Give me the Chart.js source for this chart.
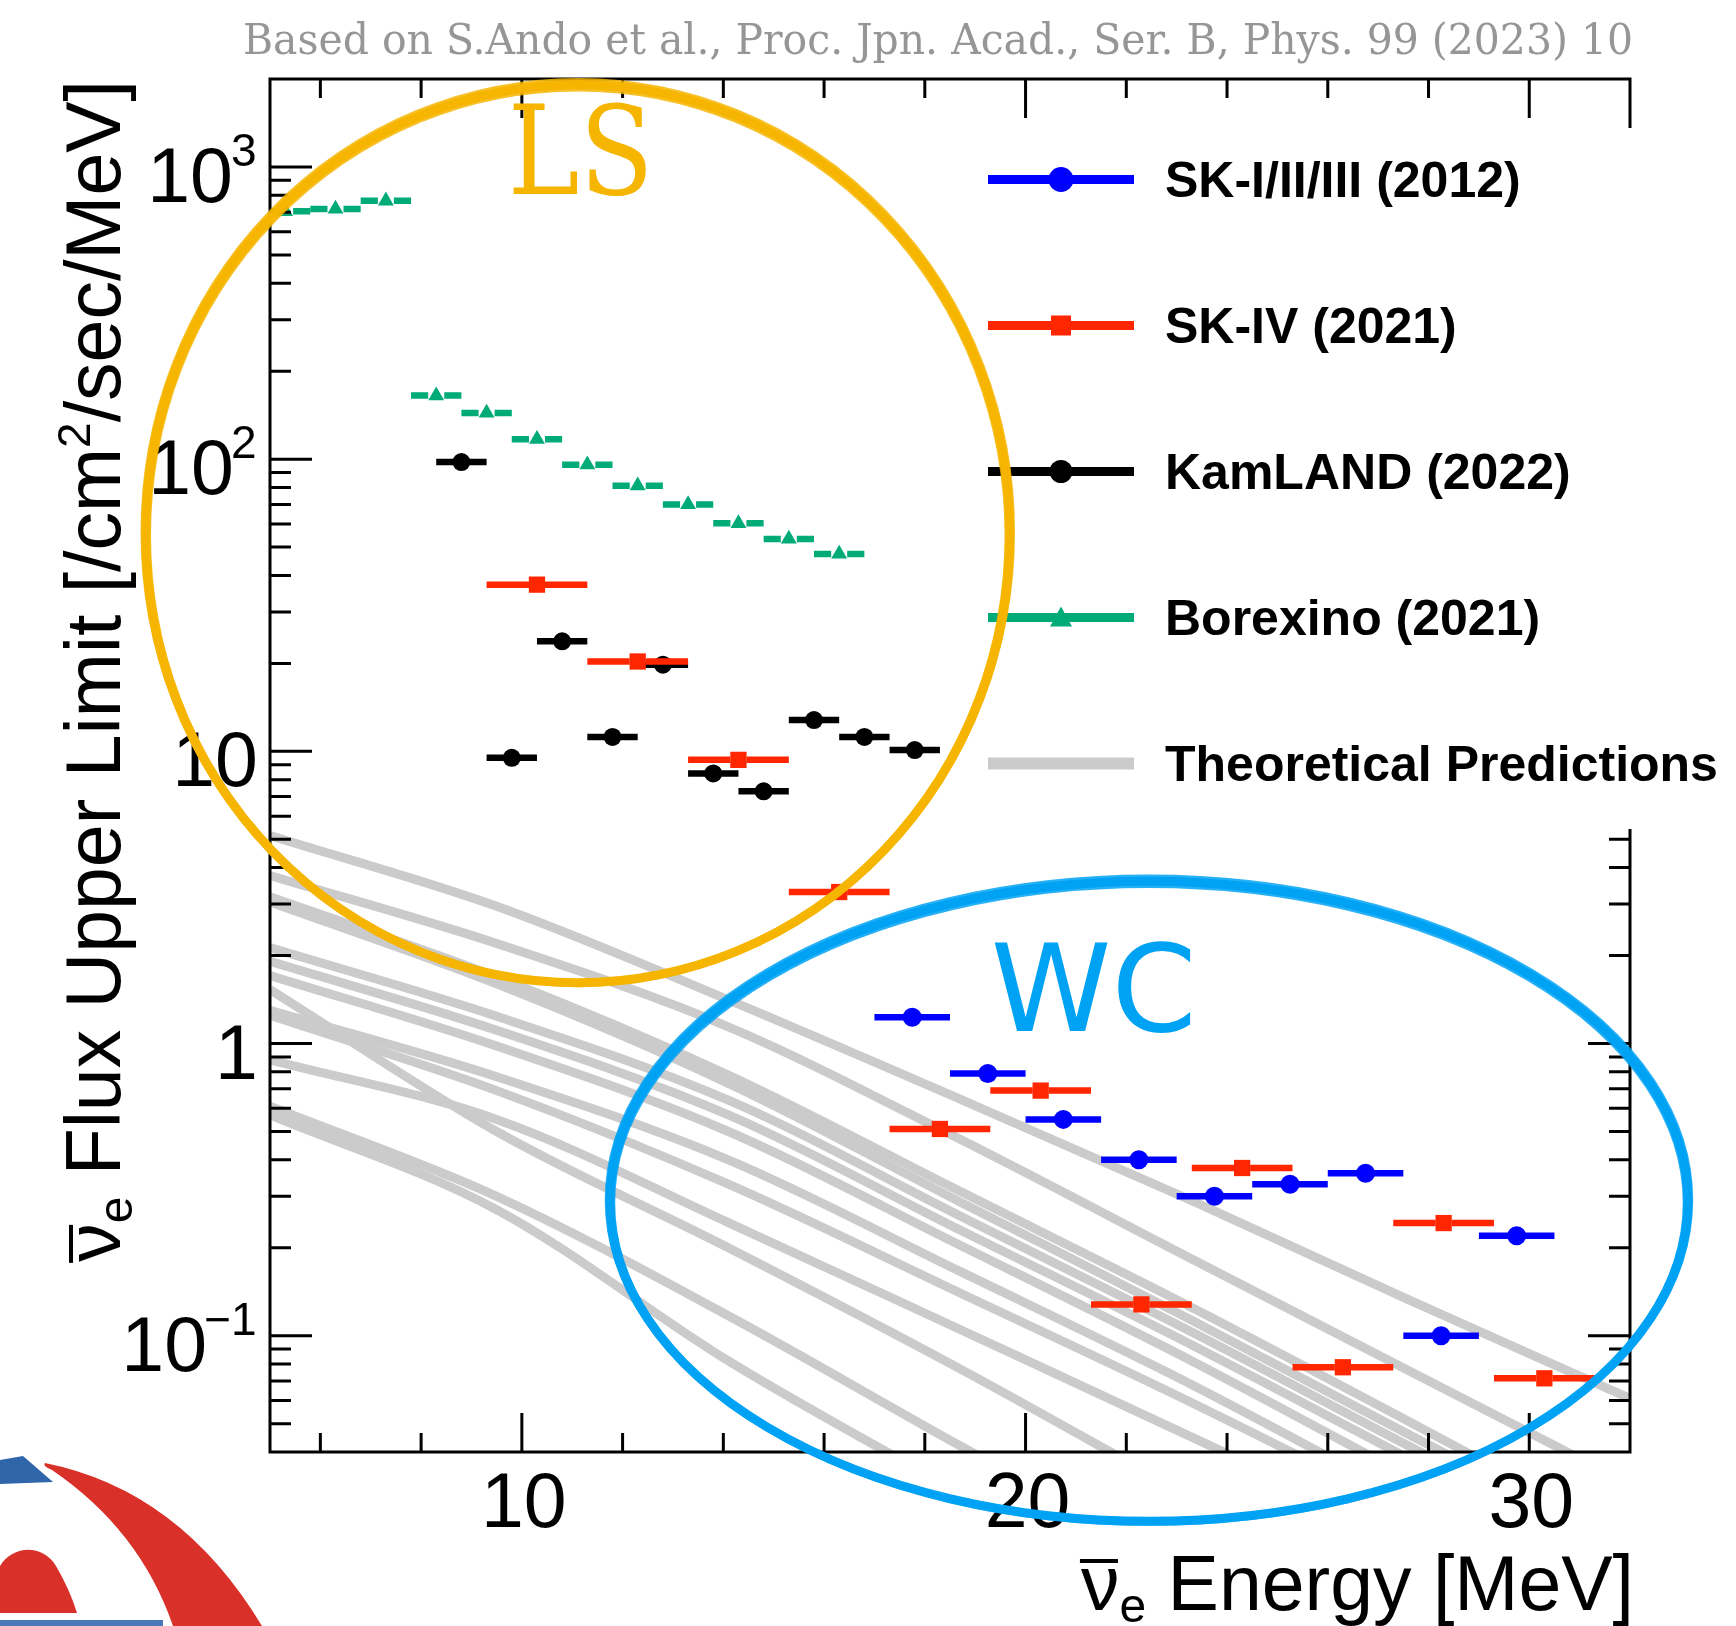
<!DOCTYPE html>
<html>
<head>
<meta charset="utf-8">
<title>Neutrino flux upper limits</title>
<script src="https://cdn.jsdelivr.net/npm/chart.js@4"></script>
<style>
  html, body { margin: 0; padding: 0; background: #fff; overflow: hidden; }
  canvas { display: block; }
</style>
</head>
<body>
<canvas id="srnChart" width="1736" height="1626"></canvas>
<script>
// axis ranges
const energyMin = 5, energyMax = 32;
const fluxMin = 0.04, fluxMax = 2000;

// SK-I/II/III (2012), 1.5 MeV bins
const skOldEnergy = [17.75, 19.25, 20.75, 22.25, 23.75, 25.25, 26.75, 28.25, 29.75];
const skOldFlux   = [1.23, 0.79, 0.55, 0.40, 0.30, 0.33, 0.36, 0.100, 0.22];
const skOldHalfBin = 0.75;

// SK-IV (2021), 2 MeV bins
const sk4Energy = [10.3, 12.3, 14.3, 16.3, 18.3, 20.3, 22.3, 24.3, 26.3, 28.3, 30.3];
const sk4Flux   = [37.2, 20.3, 9.35, 3.30, 0.51, 0.69, 0.128, 0.375, 0.078, 0.243, 0.0715];
const sk4HalfBin = 1.0;

// KamLAND (2022), 1 MeV bins
const kamlandEnergy = [8.8, 9.8, 10.8, 11.8, 12.8, 13.8, 14.8, 15.8, 16.8, 17.8];
const kamlandFlux   = [97.7, 9.5, 23.8, 11.2, 19.8, 8.4, 7.3, 12.8, 11.2, 10.1];
const kamlandHalfBin = 0.5;

// Borexino (2021), 1 MeV bins
const borexinoEnergy = [5.3, 6.3, 7.3, 8.3, 9.3, 10.3, 11.3, 12.3, 13.3, 14.3, 15.3, 16.3];
const borexinoFlux   = [705, 718, 766, 165, 144, 117, 95.7, 81.1, 70.0, 60.3, 53.3, 47.4];
const borexinoHalfBin = 0.5;

// theoretical predictions, read at these energies
const theoryEnergy = [5, 9.5, 14.1, 18.7, 23.3, 27.6, 32];
const theoryFlux = [
  [5.15, 2.95, 1.41, 0.645, 0.29, 0.133, 0.061],
  [3.76, 2.20, 1.14, 0.47, 0.183, 0.076, 0.031],
  [3.18, 1.69, 0.78, 0.312, 0.125, 0.051, 0.020],
  [3.05, 1.60, 0.73, 0.287, 0.113, 0.046, 0.0186],
  [2.13, 1.24, 0.64, 0.257, 0.103, 0.042, 0.017],
  [1.91, 1.11, 0.57, 0.23, 0.093, 0.038, 0.015],
  [1.71, 0.98, 0.50, 0.204, 0.082, 0.033, 0.013],
  [1.30, 0.77, 0.40, 0.166, 0.068, 0.0275, 0.011],
  [1.25, 0.69, 0.33, 0.14, 0.059, 0.025, 0.010],
  [0.88, 0.55, 0.244, 0.105, 0.045, 0.020, 0.008],
  [1.53, 0.50, 0.20, 0.077, 0.028, 0.011, 0.004],
  [0.61, 0.30, 0.117, 0.042, 0.0155, 0.006, 0.0025],
  [0.57, 0.27, 0.082, 0.029, 0.0105, 0.004, 0.0016]
];

// labels
const seriesNames = ['SK-I/II/III (2012)', 'SK-IV (2021)', 'KamLAND (2022)', 'Borexino (2021)', 'Theoretical Predictions'];
const xTickValues = [10, 20, 30];
const yTickValues = [0.1, 1, 10, 100, 1000];
const yTickBase   = ['10', '1', '10', '10', '10'];
const yTickExp    = ['\u22121', '', '', '2', '3'];
const headerText = 'Based on S.Ando et al., Proc. Jpn. Acad., Ser. B, Phys. 99 (2023) 10';

const BLUE = '#0000ff', RED = '#ff2600', BLACK = '#000000', GREEN = '#00ab78', GRAY = '#cbcbcb';
const YELLOW = '#f6b500', SKYBLUE = '#00a2f4';
const SANS = '"Liberation Sans", Arial, Helvetica, sans-serif';

const pts = (xs, ys) => xs.map((x, i) => ({ x: x, y: ys[i] }));

function markerSet(label, xs, ys, half, color, style, radius) {
  return {
    type: 'scatter',
    label: label,
    data: pts(xs, ys),
    pointStyle: style,
    pointRadius: radius,
    pointBackgroundColor: color,
    pointBorderWidth: 0,
    showLine: false,
    errHalfBin: half,
    errColor: color,
    errWidth: 6.5,
    errGap: 8
  };
}

const datasets = [
  markerSet(seriesNames[0], skOldEnergy, skOldFlux, skOldHalfBin, BLUE, 'circle', 9.5),
  markerSet(seriesNames[1], sk4Energy, sk4Flux, sk4HalfBin, RED, 'rect', 11.5),
  markerSet(seriesNames[2], kamlandEnergy, kamlandFlux, kamlandHalfBin, BLACK, 'circle', 9),
  markerSet(seriesNames[3], borexinoEnergy, borexinoFlux, borexinoHalfBin, GREEN, 'triangle', 9.2)
];
theoryFlux.forEach((curve, k) => {
  datasets.push({
    type: 'line',
    label: seriesNames[4] + ' ' + (k + 1),
    data: pts(theoryEnergy, curve),
    borderColor: GRAY,
    borderWidth: 9,
    pointRadius: 0,
    fill: false,
    cubicInterpolationMode: 'monotone',
    clip: 0
  });
});

// hand-drawn style annotations (centres in data units, radii in px)
const lsMark = { e: 11.11, f: 55.6, rx: 432, ry: 449, color: YELLOW, text: 'LS', te: 9.72, tf: 809 };
const wcMark = { e: 22.45, f: 0.2886, rx: 539, ry: 320, color: SKYBLUE, text: 'WC', te: 19.31, tf: 1.104 };

function roughEllipse(ctx, cx, cy, rx, ry, color) {
  ctx.save();
  ctx.strokeStyle = color;
  [[0, 0, 9, 1], [3.5, -1.5, 3.5, 0.85], [-3.5, 1.5, 3.5, 0.85], [1.5, 2, 2, 0.7]].forEach(([dr, dy, w, al]) => {
    ctx.globalAlpha = al;
    ctx.lineWidth = w;
    ctx.beginPath();
    ctx.ellipse(cx, cy + dy, rx + dr, ry + dr, 0, 0, Math.PI * 2);
    ctx.stroke();
  });
  ctx.restore();
}

// draws text pieces left to right (optional overbar on the first one)
function drawPieces(ctx, pieces, x0, base, barOnFirst) {
  let x = x0;
  pieces.forEach((p, i) => {
    ctx.font = p.f;
    const m = ctx.measureText(p.t);
    ctx.fillText(p.t, x, base + p.dy);
    if (i === 0 && barOnFirst) {
      ctx.fillRect(x - m.actualBoundingBoxLeft - 1, base - 51, m.actualBoundingBoxLeft + m.actualBoundingBoxRight + 2, 4);
    }
    x += m.width;
  });
}
function piecesWidth(ctx, pieces) {
  let w = 0;
  pieces.forEach(p => { ctx.font = p.f; w += ctx.measureText(p.t).width; });
  return w;
}

const rootStyle = {
  id: 'rootStyle',
  beforeDatasetDraw(chart, args) {
    const ds = chart.data.datasets[args.index];
    if (!ds.errHalfBin) return;
    const { ctx, chartArea: a } = chart;
    const xs = chart.scales.x, ys = chart.scales.y;
    ctx.save();
    ctx.beginPath();
    ctx.rect(a.left, a.top, a.right - a.left, a.bottom - a.top);
    ctx.clip();
    ctx.strokeStyle = ds.errColor;
    ctx.lineWidth = ds.errWidth;
    ds.data.forEach(p => {
      const cx = xs.getPixelForValue(p.x);
      const cy = ys.getPixelForValue(p.y);
      const lo = xs.getPixelForValue(p.x - ds.errHalfBin);
      const hi = xs.getPixelForValue(p.x + ds.errHalfBin);
      ctx.beginPath();
      ctx.moveTo(lo, cy); ctx.lineTo(cx - ds.errGap, cy);
      ctx.moveTo(cx + ds.errGap, cy); ctx.lineTo(hi, cy);
      ctx.stroke();
    });
    ctx.restore();
  },
  afterDraw(chart) {
    const { ctx, chartArea: a } = chart;
    const xs = chart.scales.x, ys = chart.scales.y;
    ctx.save();

    // frame + inward ticks on all four sides
    ctx.strokeStyle = '#000';
    ctx.lineWidth = 3;
    ctx.strokeRect(a.left, a.top, a.right - a.left, a.bottom - a.top);
    ctx.beginPath();
    for (let e = 6; e < energyMax; e += 2) {
      const px = xs.getPixelForValue(e);
      const len = e % 10 === 0 ? 39 : 19;
      ctx.moveTo(px, a.bottom); ctx.lineTo(px, a.bottom - len);
      ctx.moveTo(px, a.top); ctx.lineTo(px, a.top + len);
    }
    for (let d = -2; d <= 3; d++) {
      for (let m = 1; m <= 9; m++) {
        const v = m * Math.pow(10, d);
        if (v <= fluxMin * 1.001 || v >= fluxMax * 0.999) continue;
        const py = ys.getPixelForValue(v);
        const len = m === 1 ? 42 : 21;
        ctx.moveTo(a.left, py); ctx.lineTo(a.left + len, py);
        ctx.moveTo(a.right, py); ctx.lineTo(a.right - len, py);
      }
    }
    ctx.stroke();

    // tick labels
    ctx.fillStyle = '#000';
    ctx.textBaseline = 'alphabetic';
    ctx.textAlign = 'left';
    const inkRight = a.left - 15;
    yTickValues.forEach((v, i) => {
      const py = ys.getPixelForValue(v);
      let right = inkRight;
      if (yTickExp[i]) {
        ctx.font = '46px ' + SANS;
        const me = ctx.measureText(yTickExp[i]);
        ctx.fillText(yTickExp[i], right - me.actualBoundingBoxRight, py - 1);
        right = right - me.actualBoundingBoxRight - me.actualBoundingBoxLeft - 2;
      }
      ctx.font = '77px ' + SANS;
      const mb = ctx.measureText(yTickBase[i]);
      ctx.fillText(yTickBase[i], right - mb.actualBoundingBoxRight, py + 35);
    });
    ctx.font = '77px ' + SANS;
    ctx.textAlign = 'center';
    xTickValues.forEach(v => {
      ctx.fillText(String(v), xs.getPixelForValue(v) + 2, a.bottom + 75);
    });
    ctx.textAlign = 'left';

    // axis titles
    const big = '77px ' + SANS, small = '48px ' + SANS, sup = '46px ' + SANS;
    const xt = [{ t: '\u03bd', f: big, dy: 0 }, { t: 'e', f: small, dy: 12 }, { t: ' Energy [MeV]', f: big, dy: 0 }];
    drawPieces(ctx, xt, a.right + 4 - piecesWidth(ctx, xt), a.bottom + 158, true);

    const yt = [{ t: '\u03bd', f: big, dy: 0 }, { t: 'e', f: small, dy: 12 },
                { t: ' Flux Upper Limit [/cm', f: big, dy: 0 }, { t: '2', f: sup, dy: -30 },
                { t: '/sec/MeV]', f: big, dy: 0 }];
    ctx.save();
    ctx.translate(120, a.top + 1);
    ctx.rotate(-Math.PI / 2);
    drawPieces(ctx, yt, -piecesWidth(ctx, yt), 0, true);
    ctx.restore();

    // header note
    ctx.font = '43px "DejaVu Serif", "Liberation Serif", serif';
    ctx.fillStyle = '#969696';
    ctx.textAlign = 'right';
    ctx.fillText(headerText, a.right + 3, 54, 1390);
    ctx.textAlign = 'left';

    // legend box (covers part of the right frame like the original)
    ctx.fillStyle = '#fff';
    ctx.fillRect(975, 128, chart.width - 975, 829 - 128);
    const legColors = [BLUE, RED, BLACK, GREEN, GRAY];
    seriesNames.forEach((name, i) => {
      const ly = 179.5 + i * 146;
      ctx.strokeStyle = legColors[i];
      ctx.lineWidth = i === 4 ? 12 : 9;
      ctx.beginPath();
      ctx.moveTo(988, ly); ctx.lineTo(1134, ly);
      ctx.stroke();
      ctx.fillStyle = legColors[i];
      const mx = 1061;
      if (i === 0) { ctx.beginPath(); ctx.arc(mx, ly, 12.5, 0, Math.PI * 2); ctx.fill(); }
      if (i === 1) { ctx.fillRect(mx - 10, ly - 10, 20, 20); }
      if (i === 2) { ctx.beginPath(); ctx.arc(mx, ly, 11.5, 0, Math.PI * 2); ctx.fill(); }
      if (i === 3) {
        ctx.beginPath();
        ctx.moveTo(mx, ly - 11); ctx.lineTo(mx + 11, ly + 9); ctx.lineTo(mx - 11, ly + 9);
        ctx.closePath(); ctx.fill();
      }
      ctx.fillStyle = '#000';
      ctx.font = 'bold 50px ' + SANS;
      ctx.fillText(name, 1165, ly + 17);
    });

    // LS / WC circles and labels
    [lsMark, wcMark].forEach(mk => {
      roughEllipse(ctx, xs.getPixelForValue(mk.e), ys.getPixelForValue(mk.f), mk.rx, mk.ry, mk.color);
    });
    ctx.fillStyle = YELLOW;
    ctx.font = '123px "DejaVu Serif", "Liberation Serif", serif';
    ctx.fillText(lsMark.text, xs.getPixelForValue(lsMark.te), ys.getPixelForValue(lsMark.tf), 146);
    ctx.fillStyle = SKYBLUE;
    ctx.font = '122px "DejaVu Sans", sans-serif';
    ctx.fillText(wcMark.text, xs.getPixelForValue(wcMark.te), ys.getPixelForValue(wcMark.tf), 210);

    // partial logo in the lower-left corner
    ctx.fillStyle = '#d9302a';
    ctx.beginPath();
    ctx.moveTo(45, 1463);
    ctx.quadraticCurveTo(180, 1490, 262, 1626);
    ctx.lineTo(173, 1626);
    ctx.quadraticCurveTo(140, 1530, 52, 1470);
    ctx.quadraticCurveTo(42, 1466, 45, 1463);
    ctx.fill();
    ctx.beginPath();
    ctx.moveTo(0, 1566);
    ctx.bezierCurveTo(12, 1546, 42, 1543, 56, 1566);
    ctx.quadraticCurveTo(70, 1590, 77, 1613);
    ctx.lineTo(0, 1613);
    ctx.closePath();
    ctx.fill();
    ctx.fillStyle = '#2f66aa';
    ctx.beginPath();
    ctx.moveTo(0, 1460); ctx.lineTo(23, 1456); ctx.lineTo(53, 1482); ctx.lineTo(0, 1484);
    ctx.closePath(); ctx.fill();
    ctx.fillStyle = '#4a78b8';
    ctx.fillRect(0, 1620, 163, 6);

    ctx.restore();
  }
};

Chart.defaults.font.family = SANS;

new Chart(document.getElementById('srnChart'), {
  type: 'scatter',
  data: { datasets: datasets },
  options: {
    responsive: false,
    animation: false,
    devicePixelRatio: 1,
    events: [],
    layout: { padding: { left: 270, right: 106, top: 79, bottom: 174 } },
    scales: {
      x: { type: 'linear', min: energyMin, max: energyMax, display: false },
      y: { type: 'logarithmic', min: fluxMin, max: fluxMax, display: false }
    },
    plugins: { legend: { display: false }, tooltip: { enabled: false } }
  },
  plugins: [rootStyle]
});
</script>
</body>
</html>
